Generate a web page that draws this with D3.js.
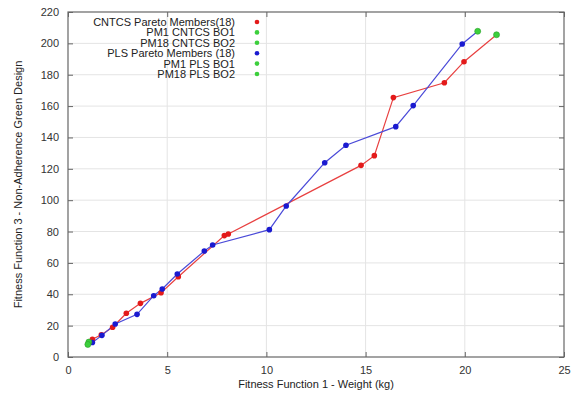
<!DOCTYPE html>
<html>
<head>
<meta charset="utf-8">
<script src="https://cdn.jsdelivr.net/npm/d3@7"></script>
<style>
  body { margin: 0; background: #fff; }
  text { font-family: "Liberation Sans", Arial, sans-serif; }
</style>
</head>
<body>
<div id="chart-container"></div>
<script>
// CNTCS pareto members (weight kg, non-adherence)
const cntcsX = [1.05, 1.23, 1.68, 2.25, 2.94, 3.65, 4.69, 5.56, 7.88, 8.08, 14.77, 15.44, 16.4, 18.97, 19.96, 21.6];
const cntcsY = [9.5, 11.3, 14.2, 19.0, 27.9, 34.2, 41.0, 51.2, 77.4, 78.4, 122.2, 128.4, 165.4, 174.9, 188.3, 205.5];
// PLS pareto members
const plsX = [1.0, 1.23, 1.71, 2.38, 3.48, 4.32, 4.75, 5.51, 6.87, 7.29, 10.15, 11.0, 12.94, 14.01, 16.52, 17.4, 19.87, 20.65];
const plsY = [8.0, 9.2, 13.8, 21.0, 27.2, 39.1, 43.4, 52.9, 67.6, 71.4, 81.2, 96.3, 123.9, 135.0, 146.9, 160.3, 199.6, 207.7];
// boundary optima (green)
const boLabels = ["PM1 CNTCS BO1", "PM18 CNTCS BO2", "PM1 PLS BO1", "PM18 PLS BO2"];
const boX = [1.05, 21.6, 1.0, 20.65];
const boY = [9.5, 205.5, 8.0, 207.7];

const legendLabels = ["CNTCS Pareto Members(18)", "PM1 CNTCS BO1", "PM18 CNTCS BO2",
  "PLS Pareto Members (18)", "PM1 PLS BO1", "PM18 PLS BO2"];
const legendColors = ["#e31a1a", "#3ccf3c", "#3ccf3c", "#1a1ad0", "#3ccf3c", "#3ccf3c"];

const xTicks = [0, 5, 10, 15, 20, 25];
const yTicks = d3.range(0, 221, 20);

const W = 576, H = 394;
const margin = { top: 12, right: 12, bottom: 37, left: 68 };
const width = W - margin.left - margin.right;
const height = H - margin.top - margin.bottom;

const svg = d3.select("#chart-container")
  .append("svg")
  .attr("width", W)
  .attr("height", H)
  .append("g")
  .attr("transform", `translate(${margin.left}, ${margin.top})`);

const x = d3.scaleLinear().domain([0, 25]).range([0, width]);
const y = d3.scaleLinear().domain([0, 220]).range([height, 0]);

// grid
svg.append("g").selectAll("line.gx")
  .data(xTicks.slice(1, -1))
  .join("line")
  .attr("x1", d => x(d)).attr("x2", d => x(d))
  .attr("y1", 0).attr("y2", height)
  .attr("stroke", "#e4e4e4").attr("stroke-width", 1);
svg.append("g").selectAll("line.gy")
  .data(yTicks.slice(1, -1))
  .join("line")
  .attr("x1", 0).attr("x2", width)
  .attr("y1", d => y(d)).attr("y2", d => y(d))
  .attr("stroke", "#e4e4e4").attr("stroke-width", 1);

// axes with inward ticks (mirrored)
const styleAxis = g => {
  g.select(".domain").remove();
  g.selectAll(".tick line").attr("stroke", "#666");
  g.selectAll(".tick text").attr("fill", "#333").style("font-size", "11px");
};
svg.append("g")
  .attr("transform", `translate(0, ${height})`)
  .call(d3.axisBottom(x).tickValues(xTicks).tickSizeInner(-5).tickSizeOuter(0).tickPadding(9))
  .call(styleAxis);
svg.append("g")
  .call(d3.axisTop(x).tickValues(xTicks).tickSizeInner(-5).tickSizeOuter(0).tickFormat(""))
  .call(styleAxis);
svg.append("g")
  .call(d3.axisLeft(y).tickValues(yTicks).tickSizeInner(-5).tickSizeOuter(0).tickPadding(9))
  .call(styleAxis);
svg.append("g")
  .attr("transform", `translate(${width}, 0)`)
  .call(d3.axisRight(y).tickValues(yTicks).tickSizeInner(-5).tickSizeOuter(0).tickFormat(""))
  .call(styleAxis);

svg.append("rect")
  .attr("width", width).attr("height", height)
  .attr("fill", "none").attr("stroke", "#666").attr("stroke-width", 1.2);

// series
const line = d3.line().x(d => x(d[0])).y(d => y(d[1]));
const cntcs = cntcsX.map((v, i) => [v, cntcsY[i]]);
const pls = plsX.map((v, i) => [v, plsY[i]]);

svg.append("path").datum(cntcs)
  .attr("fill", "none").attr("stroke", "#e84040").attr("stroke-width", 1.2)
  .attr("d", line);
svg.append("path").datum(pls)
  .attr("fill", "none").attr("stroke", "#4a4ad8").attr("stroke-width", 1.2)
  .attr("d", line);

svg.append("g").selectAll("circle")
  .data(cntcs.slice(1, -1))
  .join("circle")
  .attr("cx", d => x(d[0])).attr("cy", d => y(d[1]))
  .attr("r", 2.8).attr("fill", "#e31a1a");
svg.append("g").selectAll("circle")
  .data(pls.slice(1, -1))
  .join("circle")
  .attr("cx", d => x(d[0])).attr("cy", d => y(d[1]))
  .attr("r", 2.8).attr("fill", "#1a1ad0");
svg.append("g").selectAll("circle")
  .data(boX.map((v, i) => [v, boY[i]]))
  .join("circle")
  .attr("cx", d => x(d[0])).attr("cy", d => y(d[1]))
  .attr("r", 3).attr("fill", "#3ccf3c").attr("stroke", "#2aa02a").attr("stroke-width", 0.6);

// legend
const legend = svg.append("g").attr("transform", "translate(0, 10)");
legendLabels.forEach((lab, i) => {
  const ly = i * 10.4;
  legend.append("text")
    .attr("x", 167).attr("y", ly + 4)
    .attr("text-anchor", "end")
    .attr("fill", "#222")
    .style("font-size", "11px")
    .text(lab);
  legend.append("circle")
    .attr("cx", 189).attr("cy", ly)
    .attr("r", 2.3)
    .attr("fill", legendColors[i]);
});

// axis titles
svg.append("text")
  .attr("x", width / 2).attr("y", height + 31)
  .attr("text-anchor", "middle")
  .attr("fill", "#222")
  .style("font-size", "11px")
  .text("Fitness Function 1 - Weight (kg)");
svg.append("text")
  .attr("transform", `translate(${-46}, ${height / 2}) rotate(-90)`)
  .attr("text-anchor", "middle")
  .attr("fill", "#222")
  .style("font-size", "11px")
  .text("Fitness Function 3 - Non-Adherence Green Design");
</script>
</body>
</html>
